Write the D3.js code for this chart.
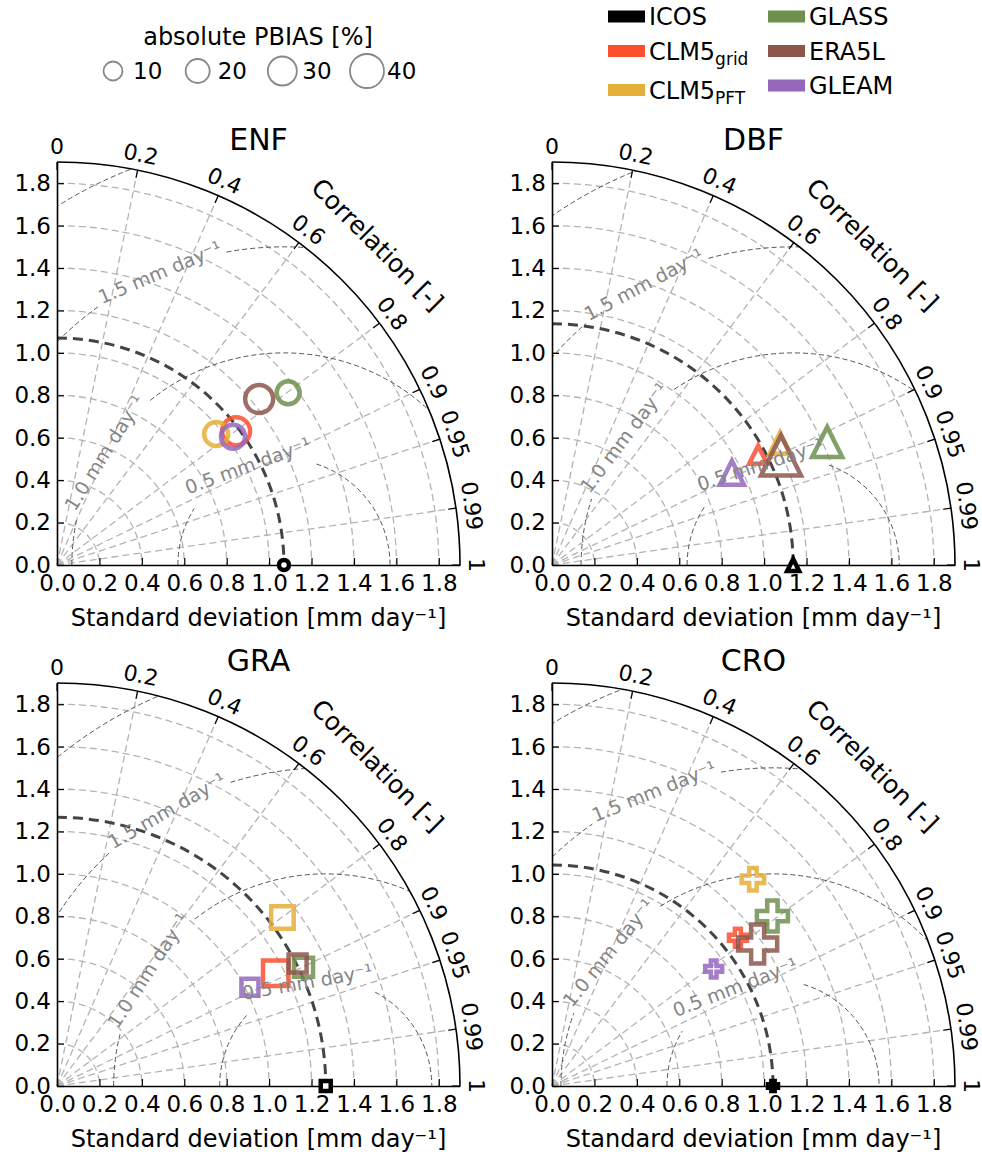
<!DOCTYPE html>
<html>
<head>
<meta charset="utf-8">
<script src="https://cdn.jsdelivr.net/npm/d3@7"></script>
<style>
body { margin: 0; background: #fff; }
svg text { font-family: "DejaVu Sans", sans-serif; }
</style>
</head>
<body>
<div id="chart"></div>
<script>
const models = ["ICOS", "CLM5grid", "CLM5PFT", "GLASS", "ERA5L", "GLEAM"];
const modelColors = ["#000000", "#fc4f30", "#e5ae38", "#6d904f", "#8c564b", "#9467bd"];
const panelNames = ["ENF", "DBF", "GRA", "CRO"];
const panelShapes = ["circle", "triangle", "square", "plus"];

// ICOS (reference) standard deviation per panel [mm day-1]
const icosStd = [1.07, 1.137, 1.267, 1.042];

// model stats, order: CLM5grid, CLM5PFT, GLASS, ERA5L, GLEAM
const stdENF = [1.054, 0.972, 1.359, 1.233, 1.027];
const corrENF = [0.801, 0.772, 0.802, 0.773, 0.808];
const pbiasENF = [28, 20, 18, 28, 20];

const stdDBF = [1.102, 1.219, 1.421, 1.197, 0.953];
const corrDBF = [0.882, 0.882, 0.913, 0.902, 0.890];
const pbiasDBF = [8, 14, 32, 52, 20];

const stdGRA = [1.160, 1.327, 1.290, 1.273, 1.022];
const corrGRA = [0.889, 0.801, 0.901, 0.891, 0.890];
const pbiasGRA = [23, 17, 10, 8, 6];

const stdCRO = [1.121, 1.359, 1.312, 1.178, 0.941];
const corrCRO = [0.782, 0.697, 0.792, 0.823, 0.810];
const pbiasCRO = [8, 17, 34, 50, 6];

const stdTicks = [0, 0.2, 0.4, 0.6, 0.8, 1.0, 1.2, 1.4, 1.6, 1.8];
const corrTicks = [0, 0.2, 0.4, 0.6, 0.8, 0.9, 0.95, 0.99, 1];
const rmsLevels = [0.5, 1.0, 1.5, 2.0];
const rmsLabels = ["0.5 mm day⁻¹", "1.0 mm day⁻¹", "1.5 mm day⁻¹"];
const pbiasLegend = [10, 20, 30, 40];

const panelData = [
    {std: stdENF, corr: corrENF, pbias: pbiasENF},
    {std: stdDBF, corr: corrDBF, pbias: pbiasDBF},
    {std: stdGRA, corr: corrGRA, pbias: pbiasGRA},
    {std: stdCRO, corr: corrCRO, pbias: pbiasCRO}
];

// layout
const width = 982, height = 1157;
const smax = 1.9;
const R = 403;
const origins = [[57, 565], [552, 565], [57, 1086], [552, 1086]];
// where the inline contour labels sit (angle seen from the reference point, degrees)
const labelAngles = [[110, 148, 113], [108, 143, 118], [100, 147, 120], [111, 141, 112]];

const sizeScale = d3.scaleLinear().domain([0, 40]).range([14, 34]);

const svg = d3.select("#chart").append("svg")
    .attr("width", width)
    .attr("height", height)
    .style("background", "#fff");

function markerPath(shape, s) {
    const p = d3.path();
    const h = s / 2;
    if (shape === "circle") {
        p.moveTo(h, 0);
        p.arc(0, 0, h, 0, 2 * Math.PI);
    } else if (shape === "triangle") {
        p.moveTo(0, -h); p.lineTo(h, h); p.lineTo(-h, h); p.closePath();
    } else if (shape === "square") {
        p.rect(-h, -h, s, s);
    } else {
        const a = s / 6;
        const pts = [[-a, -3 * a], [a, -3 * a], [a, -a], [3 * a, -a], [3 * a, a], [a, a],
            [a, 3 * a], [-a, 3 * a], [-a, a], [-3 * a, a], [-3 * a, -a], [-a, -a]];
        pts.forEach((q, i) => i ? p.lineTo(q[0], q[1]) : p.moveTo(q[0], q[1]));
        p.closePath();
    }
    return p.toString();
}

function taylor(idx) {
    const [ox, oy] = origins[idx];
    const ref = icosStd[idx];
    const shape = panelShapes[idx];
    const d = panelData[idx];

    const r = d3.scaleLinear().domain([0, smax]).range([0, R]);
    const yS = d3.scaleLinear().domain([0, smax]).range([0, -R]);
    const pol = (s, c) => {
        const t = Math.acos(c);
        return [r(s) * Math.cos(t), -r(s) * Math.sin(t)];
    };

    const g = svg.append("g").attr("transform", `translate(${ox},${oy})`);
    const clipId = "quarter" + idx;
    const cp = d3.path();
    cp.moveTo(0, 0); cp.lineTo(0, -R); cp.arc(0, 0, R, -Math.PI / 2, 0); cp.closePath();
    g.append("clipPath").attr("id", clipId).append("path").attr("d", cp.toString());

    const gGrid = g.append("g");
    const gCont = g.append("g").attr("clip-path", `url(#${clipId})`);
    const gAxes = g.append("g");
    const gMarks = g.append("g");
    const gLab = g.append("g");

    // std arcs
    gGrid.selectAll("path.sarc")
        .data(stdTicks.filter(s => s > 0))
        .join("path")
        .attr("d", s => { const p = d3.path(); p.arc(0, 0, r(s), -Math.PI / 2, 0); return p.toString(); })
        .attr("fill", "none")
        .attr("stroke", "#b4b4b4")
        .attr("stroke-width", 1.3)
        .attr("stroke-dasharray", "7,4");

    // correlation rays
    gGrid.selectAll("line.ray")
        .data(corrTicks.filter(c => c > 0 && c < 1))
        .join("line")
        .attr("x1", 0).attr("y1", 0)
        .attr("x2", c => pol(smax, c)[0])
        .attr("y2", c => pol(smax, c)[1])
        .attr("stroke", "#b4b4b4")
        .attr("stroke-width", 1.3)
        .attr("stroke-dasharray", "7,4");

    // centred RMS difference contours, with inline labels
    rmsLevels.forEach((L, k) => {
        const rr = r(L);
        const cx = r(ref);
        let gap = null;
        if (k < rmsLabels.length) {
            const deg = labelAngles[idx][k];
            const phi = deg * Math.PI / 180;
            const t = gLab.append("text")
                .attr("transform", `translate(${cx + rr * Math.cos(phi)},${-rr * Math.sin(phi)}) rotate(${90 - deg})`)
                .attr("text-anchor", "middle")
                .attr("dominant-baseline", "central")
                .attr("font-size", 19)
                .attr("fill", "#858585")
                .text(rmsLabels[k]);
            const len = t.node().getComputedTextLength();
            gap = [-phi, (len + 8) / rr];
        }
        const p = d3.path();
        if (gap) {
            const a0 = gap[0] - gap[1] / 2, a1 = gap[0] + gap[1] / 2;
            p.moveTo(cx - rr, 0);
            p.arc(cx, 0, rr, -Math.PI, a0);
            p.moveTo(cx + rr * Math.cos(a1), rr * Math.sin(a1));
            p.arc(cx, 0, rr, a1, 0);
        } else {
            p.moveTo(cx - rr, 0);
            p.arc(cx, 0, rr, -Math.PI, 0);
        }
        gCont.append("path")
            .attr("d", p.toString())
            .attr("fill", "none")
            .attr("stroke", "#555")
            .attr("stroke-width", 1)
            .attr("stroke-dasharray", "5,3");
    });

    // reference std arc
    const rp = d3.path();
    rp.moveTo(0, -r(ref));
    rp.arc(0, 0, r(ref), -Math.PI / 2, 0);
    gAxes.append("path")
        .attr("d", rp.toString())
        .attr("fill", "none")
        .attr("stroke", "#444")
        .attr("stroke-width", 3)
        .attr("stroke-dasharray", "10,6");

    // outer arc
    const op = d3.path();
    op.moveTo(0, -R);
    op.arc(0, 0, R, -Math.PI / 2, 0);
    gAxes.append("path")
        .attr("d", op.toString())
        .attr("fill", "none")
        .attr("stroke", "#000")
        .attr("stroke-width", 1.6);

    // std axes
    const fmt = d3.format(".1f");
    const xAxis = gAxes.append("g")
        .call(d3.axisBottom(r).tickValues(stdTicks).tickFormat(fmt)
            .tickSizeInner(-7).tickSizeOuter(0).tickPadding(10));
    const yAxis = gAxes.append("g")
        .call(d3.axisLeft(yS).tickValues(stdTicks).tickFormat(fmt)
            .tickSizeInner(-7).tickSizeOuter(0).tickPadding(6));
    [xAxis, yAxis].forEach(a => {
        a.attr("font-size", 23).attr("font-family", "DejaVu Sans, sans-serif").style("color", "#000");
        a.select(".domain").attr("stroke-width", 1.6);
        a.selectAll(".tick line").attr("stroke-width", 1.2);
    });

    // correlation ticks and labels
    gAxes.selectAll("line.ctick")
        .data(corrTicks)
        .join("line")
        .attr("x1", c => pol(smax, c)[0] * (R - 8) / R)
        .attr("y1", c => pol(smax, c)[1] * (R - 8) / R)
        .attr("x2", c => pol(smax, c)[0])
        .attr("y2", c => pol(smax, c)[1])
        .attr("stroke", "#000")
        .attr("stroke-width", 1.2);

    gAxes.selectAll("text.clab")
        .data(corrTicks)
        .join("text")
        .attr("transform", c => {
            const t = Math.acos(c);
            const q = R + 16;
            return `translate(${q * Math.cos(t)},${-q * Math.sin(t)}) rotate(${90 - t * 180 / Math.PI})`;
        })
        .attr("text-anchor", "middle")
        .attr("dominant-baseline", "central")
        .attr("font-size", 22)
        .text(c => String(c));

    gAxes.append("text")
        .attr("transform", `translate(${(R + 50) * Math.cos(Math.PI / 4)},${-(R + 50) * Math.sin(Math.PI / 4)}) rotate(45)`)
        .attr("text-anchor", "middle")
        .attr("dominant-baseline", "central")
        .attr("font-size", 25)
        .text("Correlation [-]");

    gAxes.append("text")
        .attr("x", R / 2)
        .attr("y", 61)
        .attr("text-anchor", "middle")
        .attr("font-size", 24)
        .text("Standard deviation [mm day⁻¹]");

    gAxes.append("text")
        .attr("x", R / 2)
        .attr("y", -(R + 12))
        .attr("text-anchor", "middle")
        .attr("font-size", 30)
        .text(panelNames[idx]);

    // reference point
    gMarks.append("path")
        .attr("transform", `translate(${r(ref)},0)`)
        .attr("d", markerPath(shape, shape === "triangle" ? 12 : 10))
        .attr("fill", "#fff")
        .attr("stroke", "#000")
        .attr("stroke-width", 4.5)
        .attr("stroke-linejoin", "miter");

    // models
    const rows = d.std.map((s, i) => ({model: models[i + 1], color: modelColors[i + 1], std: s, corr: d.corr[i], pbias: d.pbias[i]}));
    gMarks.selectAll("path.mk")
        .data(rows)
        .join("path")
        .attr("transform", e => `translate(${pol(e.std, e.corr)[0]},${pol(e.std, e.corr)[1]})`)
        .attr("d", e => markerPath(shape, sizeScale(e.pbias)))
        .attr("fill", "none")
        .attr("stroke", e => e.color)
        .attr("stroke-width", 4.5)
        .attr("stroke-linejoin", "miter")
        .attr("opacity", 0.85)
        .append("title")
        .text(e => e.model);
}

panelNames.forEach((n, i) => taylor(i));

// PBIAS size legend
const lg = svg.append("g");
lg.append("text")
    .attr("x", 258)
    .attr("y", 45)
    .attr("text-anchor", "middle")
    .attr("font-size", 24)
    .text("absolute PBIAS [%]");
const lx = d3.scalePoint().domain(pbiasLegend).range([113, 367]);
lg.selectAll("circle")
    .data(pbiasLegend)
    .join("circle")
    .attr("cx", p => lx(p))
    .attr("cy", 71)
    .attr("r", p => sizeScale(p) / 2)
    .attr("fill", "none")
    .attr("stroke", "#888")
    .attr("stroke-width", 1.8);
lg.selectAll("text.pl")
    .data(pbiasLegend)
    .join("text")
    .attr("x", p => lx(p) + 20)
    .attr("y", 79)
    .attr("font-size", 23)
    .text(p => p);

// model legend
const ml = svg.append("g");
const colX = [608, 768];
const rowY = [[16.5, 51, 90], [16.5, 51, 85.5]];
models.forEach((m, i) => {
    const c = Math.floor(i / 3), k = i % 3;
    const y = rowY[c][k];
    ml.append("rect")
        .attr("x", colX[c])
        .attr("y", y - 6)
        .attr("width", 37)
        .attr("height", 12)
        .attr("fill", modelColors[i]);
    const t = ml.append("text")
        .attr("x", colX[c] + 41)
        .attr("y", y + 8.5)
        .attr("font-size", 24);
    if (m.startsWith("CLM5")) {
        t.append("tspan").text("CLM5");
        t.append("tspan").attr("font-size", 17).attr("dy", 5).text(m.slice(4));
    } else {
        t.text(m);
    }
});
</script>
</body>
</html>
